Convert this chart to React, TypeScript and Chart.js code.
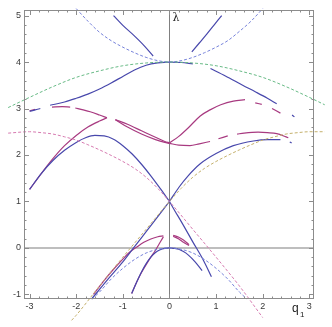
import React, { useEffect, useRef } from "react";
import { Chart, registerables } from "chart.js";

Chart.register(...registerables);

// ---------- axis ranges and ticks ----------
const X_MIN = -3.12;
const X_MAX = 3.1;
const Y_MIN = -1.1;
const Y_MAX = 5.12;
const X_TICKS = [-3, -2, -1, 0, 1, 2, 3];
const Y_TICKS = [-1, 0, 1, 2, 3, 4, 5];
const MINOR_STEP = 0.2;

// ---------- dashed curves ----------
const Q_GREEN = [-3.46, -3, -2.5, -2, -1.5, -1, -0.5, 0, 0.5, 1, 1.5, 2, 2.5, 3, 3.33];
const Y_GREEN = [3.02, 3.24, 3.47, 3.67, 3.81, 3.92, 3.98, 4.0, 3.98, 3.92, 3.81, 3.67, 3.47, 3.24, 3.08];

const Q_BLUEDASH_TOP = [-2, -1.75, -1.5, -1.25, -1, -0.75, -0.5, -0.25, 0, 0.25, 0.5, 0.75, 1, 1.25, 1.5, 1.75, 2];
const Y_BLUEDASH_TOP = [5.15, 4.88, 4.64, 4.46, 4.32, 4.2, 4.1, 4.03, 4.0, 4.03, 4.1, 4.2, 4.32, 4.46, 4.66, 4.88, 5.15];

const Q_BLUEDASH_LOW = [-1.66, -1.5, -1.25, -1, -0.75, -0.5, -0.25, 0, 0.25, 0.5, 0.75, 1, 1.25, 1.5, 1.66];
const Y_BLUEDASH_LOW = [-1.1, -0.95, -0.67, -0.44, -0.25, -0.11, -0.03, 0, -0.03, -0.11, -0.25, -0.44, -0.67, -0.95, -1.1];

const Q_PINKDASH = [-3.46, -3, -2.75, -2.5, -2.25, -2, -1.75, -1.5, -1.25, -1, -0.75, -0.5, -0.25, 0, 0.5, 1, 1.5, 2];
const Y_PINKDASH = [2.47, 2.5, 2.48, 2.45, 2.39, 2.32, 2.22, 2.11, 1.99, 1.86, 1.71, 1.52, 1.28, 1.0, 0.4, -0.2, -0.82, -1.5];

const Q_YELLOWDASH = [-2.1, -2, -1.5, -1, -0.5, 0, 0.25, 0.5, 0.75, 1, 1.25, 1.5, 1.75, 2, 2.25, 2.5, 2.75, 3, 3.33];
const Y_YELLOWDASH = [-1.56, -1.45, -0.82, -0.2, 0.4, 1.0, 1.28, 1.52, 1.71, 1.86, 1.99, 2.11, 2.22, 2.32, 2.39, 2.45, 2.48, 2.5, 2.5];

// ---------- solid blue curves ----------
const Q_BLUE_TL = [-1.2, -1.0, -0.77, -0.55, -0.35];
const Y_BLUE_TL = [5.0, 4.79, 4.58, 4.36, 4.13];

const Q_BLUE_TR = [0.48, 0.64, 0.8, 0.96, 1.12];
const Y_BLUE_TR = [4.22, 4.41, 4.6, 4.8, 5.0];

const Q_BLUE_UP = [-3.0, -2.88, -2.77, -2.66, -2.56, -2.25, -2.0, -1.75, -1.5, -1.25, -1.0, -0.75, -0.5, -0.25, 0, 0.25, 0.5, 0.7, 0.88, 1.2, 1.57, 1.84, 2.1, 2.3, 2.5, 2.63, 2.68];
const Y_BLUE_UP = [2.94, 2.97, 3.0, null, 3.07, 3.14, 3.22, 3.31, 3.42, 3.55, 3.69, 3.83, 3.93, 3.98, 4.0, 3.99, 3.96, null, 3.86, 3.7, 3.5, 3.36, 3.22, 3.1, null, 2.86, 2.82];

const Q_BLUE_ARCH = [-3.0, -2.75, -2.5, -2.25, -2.0, -1.8, -1.6, -1.4, -1.2, -1.0, -0.8, -0.6, -0.4, -0.2, 0];
const Y_BLUE_ARCH = [1.26, 1.6, 1.88, 2.1, 2.27, 2.37, 2.42, 2.41, 2.34, 2.2, 2.02, 1.8, 1.55, 1.28, 1.0];

const Q_BLUE_RUP = [0, 0.2, 0.4, 0.66, 1.0, 1.37, 1.8, 2.1, 2.38, 2.5, 2.58, 2.62];
const Y_BLUE_RUP = [1.0, 1.3, 1.55, 1.81, 2.03, 2.2, 2.3, 2.33, 2.33, null, 2.28, 2.26];

const Q_BLUE_RDOWN = [0, 0.12, 0.25, 0.5, 0.73, 0.9];
const Y_BLUE_RDOWN = [1.0, 0.79, 0.57, 0.13, -0.27, -0.62];

const Q_BLUE_LDOWN = [-1.67, -1.3, -1.0, -0.77, -0.5, -0.16, 0];
const Y_BLUE_LDOWN = [-1.1, -0.65, -0.3, 0.0, 0.35, 0.79, 1.0];

const Q_BLUE_LOWARCH = [-0.81, -0.7, -0.6, -0.5, -0.4, -0.3, -0.2, -0.1, 0, 0.1, 0.2, 0.3, 0.4, 0.55, 0.7];
const Y_BLUE_LOWARCH = [-0.98, -0.73, -0.52, -0.34, -0.2, -0.1, -0.04, -0.01, 0, -0.01, -0.03, -0.08, -0.15, -0.3, -0.49];

// ---------- solid magenta curves ----------
const Q_MAG_TOPL = [-3.0, -2.92, -2.88, -2.7, -2.52, -2.3, -2.13, -2.07, -2.02, -1.85, -1.7, -1.5, -1.34];
const Y_MAG_TOPL = [2.95, 2.97, 2.98, null, 3.03, 3.04, 3.03, null, 3.01, 2.97, 2.93, 2.86, 2.8];

const Q_MAG_RISE = [-3.0, -2.75, -2.5, -2.25, -2.0, -1.75, -1.5, -1.34];
const Y_MAG_RISE = [1.26, 1.6, 1.92, 2.2, 2.42, 2.6, 2.73, 2.8];

const Q_MAG_LENS = [-1.16, -0.9, -0.6, -0.3, -0.1, 0];
const Y_MAG_LENS_A = [2.76, 2.66, 2.52, 2.38, 2.29, 2.26];
const Y_MAG_LENS_B = [2.76, 2.6, 2.45, 2.33, 2.27, 2.25];

const Q_MAG_S = [0, 0.2, 0.4, 0.66, 0.87, 1.1, 1.37, 1.62, 1.73, 1.84, 1.98, 2.1, 2.2, 2.38];
const Y_MAG_S = [2.26, 2.4, 2.58, 2.84, 2.97, 3.08, 3.16, 3.19, null, 3.12, 3.09, null, 3.0, 2.9];

const Q_MAG_FLAT = [0, 0.2, 0.44, 0.64, 0.87, 0.96, 1.05, 1.25, 1.35, 1.45, 1.6, 1.9, 2.1, 2.3, 2.5, 2.55];
const Y_MAG_FLAT = [2.25, 2.21, 2.2, 2.24, 2.29, null, 2.35, 2.41, null, 2.45, 2.47, 2.49, 2.48, 2.46, 2.39, 2.37];

const Q_MAG_LOW_A = [-1.63, -1.4, -1.2, -1.0, -0.85, -0.7, -0.55, -0.4, -0.25, -0.13];
const Y_MAG_LOW_A = [-1.0, -0.7, -0.46, -0.24, -0.09, 0.02, 0.12, 0.19, 0.24, 0.26];

const Q_MAG_LOW_B = [-0.81, -0.7, -0.6, -0.5, -0.4, -0.3, -0.2, -0.13];
const Y_MAG_LOW_B = [-0.98, -0.73, -0.53, -0.36, -0.2, -0.05, 0.12, 0.24];

const Q_MAG_CRES = [0.08, 0.2, 0.3, 0.42];
const Y_MAG_CRES_A = [0.27, 0.23, 0.17, 0.07];
const Y_MAG_CRES_B = [0.25, 0.19, 0.12, 0.05];

// ---------- colours ----------
const C_BLUE = "rgb(72,72,172)";
const C_MAG = "rgb(168,58,128)";
const C_BLUEDASH = "rgb(118,130,218)";
const C_PINKDASH = "rgb(214,122,176)";
const C_GREENDASH = "rgb(104,186,134)";
const C_YELLOWDASH = "rgb(196,176,108)";

const pts = (q: number[], y: (number | null)[]) => q.map((x, i) => ({ x, y: y[i] }));

function solid(q: number[], y: (number | null)[], color: string) {
  return {
    data: pts(q, y),
    borderColor: color,
    borderWidth: 1.2,
    borderDash: [],
  };
}
function dashed(q: number[], y: (number | null)[], color: string) {
  return {
    data: pts(q, y),
    borderColor: color,
    borderWidth: 1,
    borderDash: [3, 2],
  };
}

const axisPlugin = {
  id: "mmaFrame",
  beforeDatasetsDraw(chart: any) {
    const ctx = chart.ctx;
    const { left, right, top, bottom } = chart.chartArea;
    const xs = chart.scales.x;
    const ys = chart.scales.y;
    ctx.save();
    const y0 = Math.round(ys.getPixelForValue(0));
    ctx.strokeStyle = "#a8a8a8";
    ctx.lineWidth = 1.6;
    ctx.beginPath();
    ctx.moveTo(left, y0);
    ctx.lineTo(right, y0);
    ctx.stroke();
    const x0 = Math.round(xs.getPixelForValue(0)) + 0.5;
    ctx.strokeStyle = "#808080";
    ctx.lineWidth = 1;
    ctx.beginPath();
    ctx.moveTo(x0, top);
    ctx.lineTo(x0, bottom);
    ctx.stroke();
    ctx.restore();
  },
  afterDraw(chart: any) {
    const ctx = chart.ctx;
    const { left, right, top, bottom } = chart.chartArea;
    const xs = chart.scales.x;
    const ys = chart.scales.y;
    ctx.save();
    ctx.strokeStyle = "#8c8c8c";
    ctx.lineWidth = 1;
    ctx.strokeRect(left + 0.5, top + 0.5, right - left - 1, bottom - top - 1);
    ctx.beginPath();
    // x ticks
    for (let k = Math.ceil(X_MIN / MINOR_STEP); k <= Math.floor(X_MAX / MINOR_STEP); k++) {
      const v = Math.round(k * MINOR_STEP * 10) / 10;
      const major = X_TICKS.includes(v);
      const len = major ? 5 : 2.5;
      const px = Math.round(xs.getPixelForValue(v)) + 0.5;
      ctx.moveTo(px, bottom);
      ctx.lineTo(px, bottom - len);
      ctx.moveTo(px, top);
      ctx.lineTo(px, top + len);
    }
    for (let k = Math.ceil(Y_MIN / MINOR_STEP); k <= Math.floor(Y_MAX / MINOR_STEP); k++) {
      const v = Math.round(k * MINOR_STEP * 10) / 10;
      const major = Y_TICKS.includes(v);
      const len = major ? 5 : 2.5;
      const py = Math.round(ys.getPixelForValue(v)) + 0.5;
      ctx.moveTo(left, py);
      ctx.lineTo(left + len, py);
      ctx.moveTo(right, py);
      ctx.lineTo(right - len, py);
    }
    ctx.stroke();

    ctx.fillStyle = "#3a3a3a";
    ctx.font = '9px "Liberation Sans", Arial, sans-serif';
    ctx.textAlign = "center";
    ctx.textBaseline = "middle";
    X_TICKS.forEach((v) => {
      ctx.fillText(String(v), xs.getPixelForValue(v), bottom + 8);
    });
    ctx.textAlign = "right";
    Y_TICKS.forEach((v) => {
      ctx.fillText(String(v), left - 3, ys.getPixelForValue(v));
    });

    ctx.fillStyle = "#222";
    ctx.textAlign = "center";
    ctx.font = '11px "DejaVu Serif", serif';
    ctx.fillText("λ", 176, 18);
    ctx.font = '12px "Liberation Sans", Arial, sans-serif';
    ctx.textAlign = "left";
    ctx.fillText("q", 292, 309);
    ctx.font = '8px "Liberation Sans", Arial, sans-serif';
    ctx.fillText("1", 300, 315);
    ctx.restore();
  },
};

export default function App() {
  const ref = useRef<HTMLCanvasElement | null>(null);
  useEffect(() => {
    if (!ref.current) return;
    const datasets = [
      dashed(Q_GREEN, Y_GREEN, C_GREENDASH),
      dashed(Q_BLUEDASH_TOP, Y_BLUEDASH_TOP, C_BLUEDASH),
      dashed(Q_BLUEDASH_LOW, Y_BLUEDASH_LOW, C_BLUEDASH),
      dashed(Q_PINKDASH, Y_PINKDASH, C_PINKDASH),
      dashed(Q_YELLOWDASH, Y_YELLOWDASH, C_YELLOWDASH),
      solid(Q_BLUE_TL, Y_BLUE_TL, C_BLUE),
      solid(Q_BLUE_TR, Y_BLUE_TR, C_BLUE),
      solid(Q_BLUE_UP, Y_BLUE_UP, C_BLUE),
      solid(Q_BLUE_ARCH, Y_BLUE_ARCH, C_BLUE),
      solid(Q_BLUE_RUP, Y_BLUE_RUP, C_BLUE),
      solid(Q_BLUE_RDOWN, Y_BLUE_RDOWN, C_BLUE),
      solid(Q_BLUE_LDOWN, Y_BLUE_LDOWN, C_BLUE),
      solid(Q_BLUE_LOWARCH, Y_BLUE_LOWARCH, C_BLUE),
      solid(Q_MAG_TOPL, Y_MAG_TOPL, C_MAG),
      solid(Q_MAG_RISE, Y_MAG_RISE, C_MAG),
      solid(Q_MAG_LENS, Y_MAG_LENS_A, C_MAG),
      solid(Q_MAG_LENS, Y_MAG_LENS_B, C_MAG),
      solid(Q_MAG_S, Y_MAG_S, C_MAG),
      solid(Q_MAG_FLAT, Y_MAG_FLAT, C_MAG),
      solid(Q_MAG_LOW_A, Y_MAG_LOW_A, C_MAG),
      solid(Q_MAG_LOW_B, Y_MAG_LOW_B, C_MAG),
      solid(Q_MAG_CRES, Y_MAG_CRES_A, C_MAG),
      solid(Q_MAG_CRES, Y_MAG_CRES_B, C_MAG),
    ].map((d) => ({
      ...d,
      showLine: true,
      pointRadius: 0,
      pointHoverRadius: 0,
      fill: false,
      clip: false,
      spanGaps: false,
      cubicInterpolationMode: "monotone" as const,
    }));

    const chart = new Chart(ref.current, {
      type: "scatter",
      data: { datasets: datasets as any },
      options: {
        animation: false,
        responsive: false,
        devicePixelRatio: 1,
        events: [],
        layout: { padding: { left: 24, right: 18, top: 10, bottom: 28 } },
        plugins: { legend: { display: false }, tooltip: { enabled: false } },
        scales: {
          x: { type: "linear", min: X_MIN, max: X_MAX, display: false },
          y: { type: "linear", min: Y_MIN, max: Y_MAX, display: false },
        },
      },
      plugins: [axisPlugin],
    });
    return () => chart.destroy();
  }, []);

  return (
    <div style={{ position: "absolute", left: 0, top: 0, width: 332, height: 327, background: "#fff" }}>
      <canvas ref={ref} width={332} height={327} style={{ display: "block" }} />
    </div>
  );
}
